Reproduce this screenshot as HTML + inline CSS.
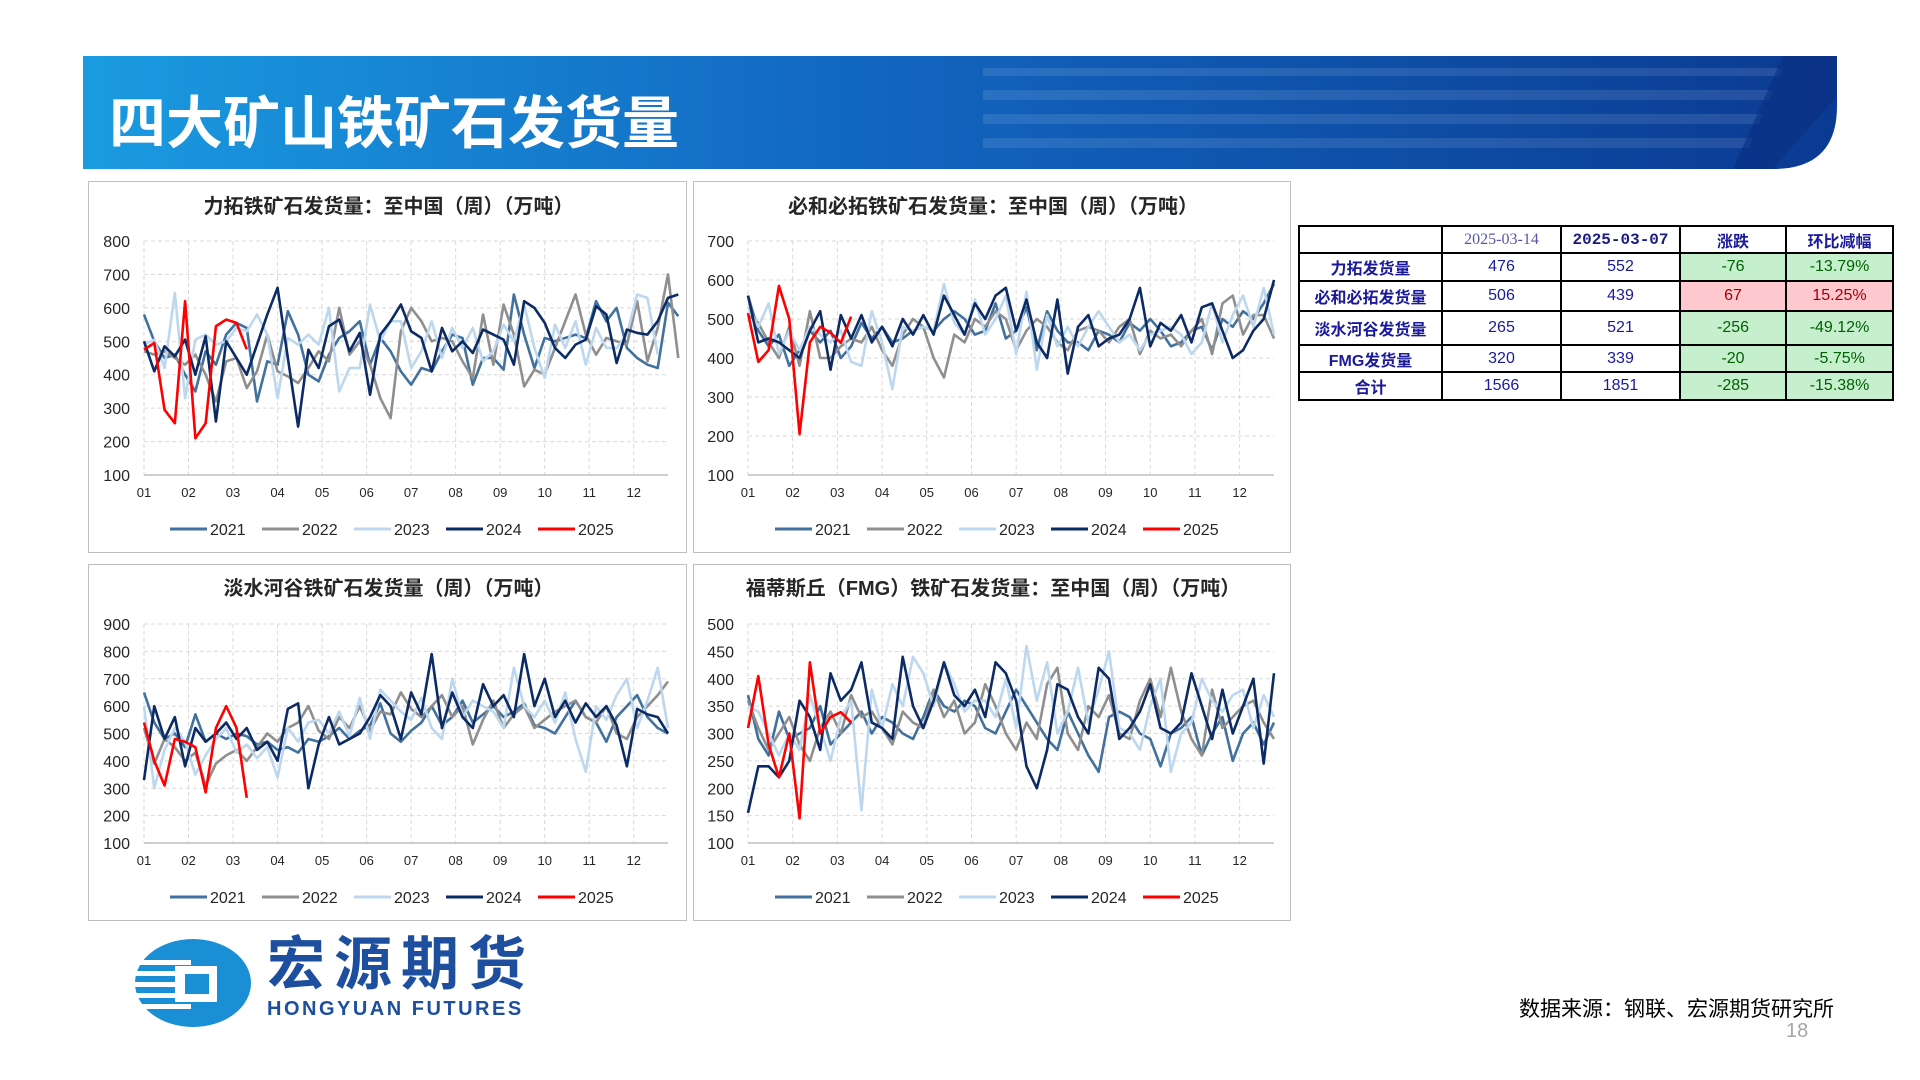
<!DOCTYPE html>
<html><head><meta charset="utf-8">
<style>
body{margin:0;width:1920px;height:1080px;background:#fff;position:relative;overflow:hidden;font-family:"Liberation Sans","Noto Sans CJK SC",sans-serif;}
.panel{position:absolute;border:1px solid #bfbfbf;background:#fff;box-sizing:border-box;}
.panel svg{position:absolute;left:0;top:0;}
table{position:absolute;left:1298px;top:225px;border-collapse:collapse;font-size:16px;color:#1a1a9a;}
td{border:2px solid #000;text-align:center;padding:0;}
.g{background:#c6efce;color:#006100;}
.r{background:#ffc7ce;color:#9c0006;}
</style></head><body>
<div style="position:absolute;left:83px;top:56px;width:1754px;height:113px;">
<svg width="1754" height="113" style="position:absolute;left:0;top:0">
<defs><linearGradient id="hg" x1="0" x2="1" y1="0" y2="0"><stop offset="0" stop-color="#1a9be0"/><stop offset="0.45" stop-color="#1266c0"/><stop offset="1" stop-color="#0b3a92"/></linearGradient></defs>
<path d="M0 0 H1754 V50 Q1754 113 1690 113 H0 Z" fill="url(#hg)"/>
<g fill="#ffffff" opacity="0.1">
<polygon points="900,12 1700,12 1696,20 900,20"/><polygon points="900,34 1690,34 1686,44 900,44"/>
<polygon points="900,58 1680,58 1676,68 900,68"/><polygon points="900,82 1670,82 1666,92 900,92"/></g>
<polygon points="1700,0 1754,0 1754,40 1690,113 1650,113" fill="#0a2f80" opacity="0.6"/>
</svg>
<div style="position:absolute;left:26px;top:40px;font-size:57px;font-weight:bold;color:#fff;line-height:1;font-family:'Liberation Sans','Noto Sans CJK SC',sans-serif;">四大矿山铁矿石发货量</div>
</div>

<div class="panel" style="left:88px;top:181px;width:599px;height:372px;"><svg id="c1" width="599" height="372"></svg></div>
<div class="panel" style="left:693px;top:181px;width:598px;height:372px;"><svg id="c2" width="598" height="372"></svg></div>
<div class="panel" style="left:88px;top:564px;width:599px;height:357px;"><svg id="c3" width="599" height="357"></svg></div>
<div class="panel" style="left:693px;top:564px;width:598px;height:357px;"><svg id="c4" width="598" height="357"></svg></div>

<table>
<tr style="height:27px"><td style="width:141px"></td><td style="width:117px;font-family:'Liberation Serif',serif;color:#5555aa">2025-03-14</td><td style="width:117px;font-family:'Liberation Mono',monospace;font-weight:bold;color:#1a1a80">2025-03-07</td><td style="width:104px;font-weight:bold">涨跌</td><td style="width:105px;font-weight:bold">环比减幅</td></tr>
<tr style="height:28px"><td style="font-weight:bold">力拓发货量</td><td>476</td><td>552</td><td class="g">-76</td><td class="g">-13.79%</td></tr>
<tr style="height:30px"><td style="font-weight:bold">必和必拓发货量</td><td>506</td><td>439</td><td class="r">67</td><td class="r">15.25%</td></tr>
<tr style="height:34px"><td style="font-weight:bold">淡水河谷发货量</td><td>265</td><td>521</td><td class="g">-256</td><td class="g">-49.12%</td></tr>
<tr style="height:27px"><td style="font-weight:bold">FMG发货量</td><td>320</td><td>339</td><td class="g">-20</td><td class="g">-5.75%</td></tr>
<tr style="height:28px"><td style="font-weight:bold">合计</td><td>1566</td><td>1851</td><td class="g">-285</td><td class="g">-15.38%</td></tr>
</table>

<div style="position:absolute;left:131px;top:938px;width:420px;height:90px;">
<svg width="120" height="90" style="position:absolute;left:0;top:0">
<ellipse cx="62" cy="45" rx="58" ry="44" fill="#1a8fd6"/>
<g fill="#fff"><rect x="0" y="22" width="60" height="5"/><rect x="0" y="33" width="60" height="5"/><rect x="0" y="44" width="60" height="5"/><rect x="0" y="55" width="60" height="5"/><rect x="0" y="66" width="60" height="5"/></g>
<rect x="44" y="28" width="42" height="36" fill="#fff"/><rect x="54" y="36" width="24" height="20" fill="#1a8fd6"/>
</svg>
<div style="position:absolute;left:136px;top:-4px;font-size:58px;font-weight:bold;color:#1d4f9e;letter-spacing:9px;line-height:62px;">宏源期货</div>
<div style="position:absolute;left:136px;top:60px;font-size:20px;font-weight:bold;color:#1d4f9e;letter-spacing:2.5px;">HONGYUAN FUTURES</div>
</div>
<div style="position:absolute;right:86px;top:993px;font-size:21px;color:#000;">数据来源：钢联、宏源期货研究所</div>
<div style="position:absolute;left:1786px;top:1020px;font-size:20px;color:#a6a6a6;">18</div>

<script>
const years=['2021','2022','2023','2024','2025'];
const colors=['#41719c','#8f8f8f','#bdd7ee','#0c2a63','#ff0000'];
const months=['01','02','03','04','05','06','07','08','09','10','11','12'];
// Chart 1: Rio Tinto
const rio2021=[580,500,450,460,400,350,470,430,520,555,540,320,440,430,590,520,400,380,460,510,530,560,430,510,470,410,370,420,410,470,520,510,370,450,450,415,640,520,420,510,500,510,520,510,620,560,600,480,450,430,420,615,575];
const rio2022=[470,460,470,450,430,460,400,320,440,450,360,410,520,410,395,375,420,470,440,600,460,500,430,330,270,530,600,560,500,510,500,440,390,580,430,610,520,365,415,400,480,560,640,520,460,510,500,490,620,440,540,700,450];
const rio2023=[490,505,420,645,330,505,520,490,500,540,530,580,520,330,510,490,520,490,600,350,420,420,610,500,560,560,420,470,560,450,540,480,540,440,470,550,500,610,480,390,550,480,560,430,540,480,480,520,640,630,460];
const rio2024=[500,410,485,455,505,400,515,260,500,450,400,490,580,660,450,245,475,420,545,565,470,525,340,520,560,610,530,510,410,540,470,500,465,535,520,505,430,620,600,555,480,450,490,505,605,580,435,535,525,520,560,630,640];
const rio2025=[475,495,295,255,620,210,255,545,565,555,476];
// Chart 2: BHP
const bhp2021=[560,470,430,460,380,420,470,440,470,400,430,490,450,480,440,450,470,480,470,500,520,500,460,470,540,450,470,530,420,520,470,440,440,420,470,460,440,490,470,500,470,430,440,470,480,420,500,480,520,500,540,590];
const bhp2022=[510,490,440,400,480,380,520,400,400,430,450,440,480,420,380,460,500,480,400,350,460,440,500,480,520,500,420,470,500,480,440,420,470,480,470,440,480,500,410,470,450,460,430,470,500,410,540,560,460,510,510,450];
const bhp2023=[530,480,540,410,470,420,480,460,440,470,390,380,520,440,320,480,470,480,470,590,490,460,550,460,500,560,410,570,370,510,430,480,430,480,520,480,440,460,420,460,470,480,460,410,440,540,440,510,560,480,580,460];
const bhp2024=[560,440,450,440,420,400,470,520,370,510,450,510,440,480,430,500,460,510,460,560,510,460,540,500,560,580,470,550,440,400,550,360,480,510,430,450,460,500,580,430,490,470,510,440,530,540,470,400,420,470,500,600];
const bhp2025=[515,390,420,585,500,205,440,480,465,439,506];
// Chart 3: Vale
const vale2021=[650,540,480,500,450,570,470,500,480,500,490,460,470,440,450,430,480,470,490,520,480,510,530,610,500,470,510,540,600,530,560,620,540,570,600,560,580,610,530,520,500,560,620,560,540,470,560,600,640,560,520,500];
const vale2022=[520,390,480,450,400,430,310,390,420,440,400,450,500,470,520,540,600,510,480,560,520,600,510,580,570,650,590,560,600,640,560,600,460,550,620,520,570,600,520,550,580,600,620,560,540,600,500,480,560,600,640,690];
const vale2023=[600,300,440,520,470,350,420,480,520,430,460,410,450,340,520,470,540,550,500,580,490,630,480,660,620,580,550,630,520,480,700,560,620,600,580,520,740,600,560,620,540,650,480,360,600,550,640,700,520,620,740,520];
const vale2024=[330,600,480,560,380,520,470,500,540,480,520,440,470,400,590,610,300,460,560,460,480,500,560,640,600,480,650,570,790,520,650,560,520,680,600,640,560,790,600,700,560,620,540,610,560,600,530,380,590,570,560,500];
const vale2025=[540,400,310,480,470,450,285,520,600,521,265];
// Chart 4: FMG
const fmg2021=[370,290,260,340,290,300,310,350,280,300,320,340,300,330,320,300,290,330,380,350,340,360,350,310,300,340,380,350,320,290,270,340,300,260,230,330,340,330,300,290,240,300,310,330,260,300,330,250,300,320,280,320];
const fmg2022=[360,310,270,300,330,280,250,310,340,300,370,330,340,310,280,340,320,310,380,330,360,300,320,390,350,300,270,320,290,390,420,300,270,350,330,370,300,290,360,400,330,420,340,290,260,380,310,330,350,360,320,290];
const fmg2023=[350,340,300,260,300,270,370,310,250,330,360,160,380,310,390,350,440,410,350,430,390,340,360,360,330,400,310,460,360,430,300,340,420,320,380,450,310,300,270,350,400,230,300,320,400,360,340,370,380,310,370,330];
const fmg2024=[155,240,240,220,250,360,330,270,410,360,380,430,320,310,290,440,350,310,360,430,370,350,380,330,430,410,360,240,200,270,390,380,330,300,420,400,290,310,340,390,310,300,320,410,350,290,380,300,350,400,245,410];
const fmg2025=[310,405,280,220,300,145,430,300,330,339,320];
const ticks1=[100,200,300,400,500,600,700,800];
const ticks2=[100,200,300,400,500,600,700];
const ticks3=[100,200,300,400,500,600,700,800,900];
const ticks4=[100,150,200,250,300,350,400,450,500];

const NS='http://www.w3.org/2000/svg';
function mk(svg,tag,attrs){const e=document.createElementNS(NS,tag);for(const k in attrs)e.setAttribute(k,attrs[k]);svg.appendChild(e);return e;}
function drawChart(id,title,series,ticks,L){
  const svg=document.getElementById(id);
  const yMin=ticks[0],yMax=ticks[ticks.length-1];
  const yS=v=>L.yb-(v-yMin)/(yMax-yMin)*(L.yb-L.yt);
  const wk=(L.x1-L.x0)/51;
  const xS=i=>L.x0+i*wk;
  const t=mk(svg,'text',{x:svg.getAttribute('width')/2,y:L.ty,'text-anchor':'middle','font-size':20,'font-weight':'bold',fill:'#262626'});
  
  
  t.textContent=title;
  ticks.forEach(v=>{
    if(v>yMin){const g=mk(svg,'line',{x1:L.x0,x2:L.x1,y1:yS(v),y2:yS(v),stroke:'#d9d9d9','stroke-dasharray':'4,3'});
    
    }
    const tl=mk(svg,'text',{x:L.x0-14,y:yS(v)+6,'text-anchor':'end','font-size':16,fill:'#262626'});
    
    
    tl.textContent=v;
  });
  months.forEach((m,i)=>{
    const x=xS(i*52/12);
    const vl=mk(svg,'line',{x1:x,x2:x,y1:L.yt,y2:L.yb,stroke:'#d9d9d9','stroke-dasharray':'4,3'});
    
    
    const ml=mk(svg,'text',{x:x,y:L.my,'text-anchor':'middle','font-size':13,fill:'#262626'});
    
    
    ml.textContent=m;
  });
  const ax=mk(svg,'line',{x1:L.x0,x2:L.x1,y1:L.yb,y2:L.yb,stroke:'#bfbfbf','stroke-width':1.5});
  
  
  series.forEach((s,k)=>{
    const p=mk(svg,'polyline',{points:s.map((v,i)=>xS(i)+','+yS(v)).join(' '),fill:'none',stroke:colors[k],'stroke-width':2.6,'stroke-linejoin':'round'});
    
    
  });
  years.forEach((y,k)=>{
    const lx=81+k*92;
    const ll=mk(svg,'line',{x1:lx,x2:lx+37,y1:L.ly,y2:L.ly,stroke:colors[k],'stroke-width':3});
    
    
    const lt=mk(svg,'text',{x:lx+40,y:L.ly+6,'font-size':16,fill:'#262626'});
    
    
    lt.textContent=y;
  });
}
const LA={x0:55,x1:579,yt:59,yb:293,ty:31,my:315,ly:347};
const LB={x0:54,x1:580,yt:59,yb:293,ty:31,my:315,ly:347};
const LC={x0:55,x1:579,yt:59,yb:278,ty:30,my:300,ly:332};
const LD={x0:54,x1:580,yt:59,yb:278,ty:30,my:300,ly:332};
drawChart('c1','力拓铁矿石发货量：至中国（周）（万吨）',[rio2021,rio2022,rio2023,rio2024,rio2025],ticks1,LA);
drawChart('c2','必和必拓铁矿石发货量：至中国（周）（万吨）',[bhp2021,bhp2022,bhp2023,bhp2024,bhp2025],ticks2,LB);
drawChart('c3','淡水河谷铁矿石发货量（周）（万吨）',[vale2021,vale2022,vale2023,vale2024,vale2025],ticks3,LC);
drawChart('c4','福蒂斯丘（FMG）铁矿石发货量：至中国（周）（万吨）',[fmg2021,fmg2022,fmg2023,fmg2024,fmg2025],ticks4,LD);
</script>
</body></html>
